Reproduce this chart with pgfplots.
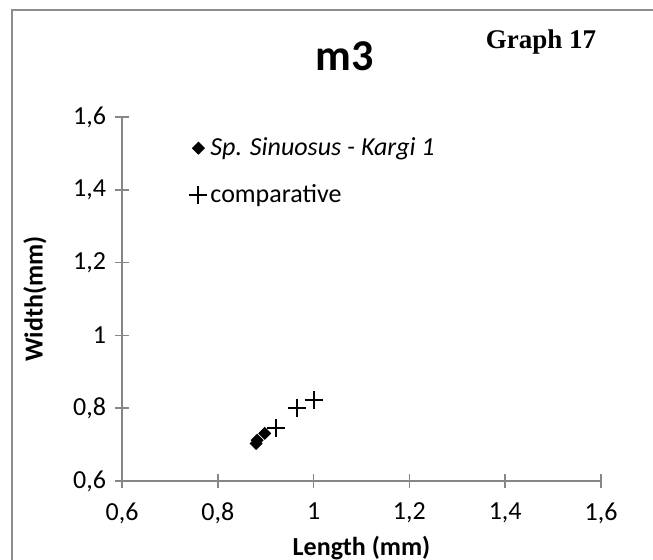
\documentclass[border=0pt]{standalone}
\usepackage{fontspec}
\setmainfont{Carlito}
\newfontfamily\timesfont{Liberation Serif}
\usepackage{pgfplots}
\pgfplotsset{compat=1.18}
\definecolor{axgray}{HTML}{868686}
\definecolor{framegray}{HTML}{8C8C8C}
\begin{document}
\begin{tikzpicture}
\begin{axis}[
  at={(0pt,0pt)}, anchor=south west,
  scale only axis, width=239.5pt, height=182pt,
  xmin=0.6, xmax=1.6, ymin=0.6, ymax=1.6,
  xtick={0.6,0.8,1,1.2,1.4,1.6},
  ytick={0.6,0.8,1,1.2,1.4,1.6},
  axis x line=bottom, axis y line=left,
  axis line style={-, draw=axgray, line width=0.8pt},
  tick style={draw=axgray, line width=0.8pt},
  tick align=center, major tick length=7pt,
  /pgf/number format/.cd, use comma, assume math mode=true,
  /pgfplots/.cd,
  ticklabel style={font=\fontsize{13}{15}\selectfont},
  xticklabel style={yshift=-4pt},
  yticklabel style={xshift=-1pt},
  xlabel={\textbf{Length (mm)}},
  ylabel={\textbf{Width(mm)}},
  xlabel style={at={(axis description cs:0.5,0)}, anchor=center, yshift=-33.5pt, font=\fontsize{13}{15}\selectfont},
  ylabel style={at={(axis description cs:0,0.5)}, anchor=center, rotate=0, yshift=43.5pt, font=\fontsize{13}{15}\selectfont},
  legend style={draw=none, fill=none, at={(axis cs:0.74,1.555)}, anchor=north west,
    font=\fontsize{13}{15}\selectfont, row sep=9pt, inner sep=0pt, nodes={inner xsep=1.5pt}},
  legend cell align=left,
  legend image code/.code={\draw[#1] plot coordinates {(0.1cm,0cm)};},
  clip=false,
]
\addplot[only marks, mark=square*, mark size=2.1pt, mark options={rotate=45}, black] coordinates {
  (0.88,0.703) (0.882,0.712) (0.898,0.731)
};
\addlegendentry{\textit{Sp. Sinuosus - Kargi 1}}
\addplot[only marks, mark=+, mark size=4.5pt, black, line width=1pt] coordinates {
  (0.922,0.745) (0.965,0.801) (1.0,0.822)
};
\addlegendentry{comparative}
\end{axis}
\node[font=\fontsize{22}{26}\selectfont\bfseries] at (111.5pt,212.5pt) {m3};
\node[font=\timesfont\fontsize{13.5}{16}\selectfont\bfseries] at (209.5pt,219.5pt) {Graph 17};
\draw[framegray, line width=1pt] (-55pt,-40pt) -- (-55pt,235.5pt) -- (266pt,235.5pt);
\pgfresetboundingbox
\useasboundingbox (-61pt,-39.5pt) rectangle (265.5pt,240.5pt);
\end{tikzpicture}
\end{document}
